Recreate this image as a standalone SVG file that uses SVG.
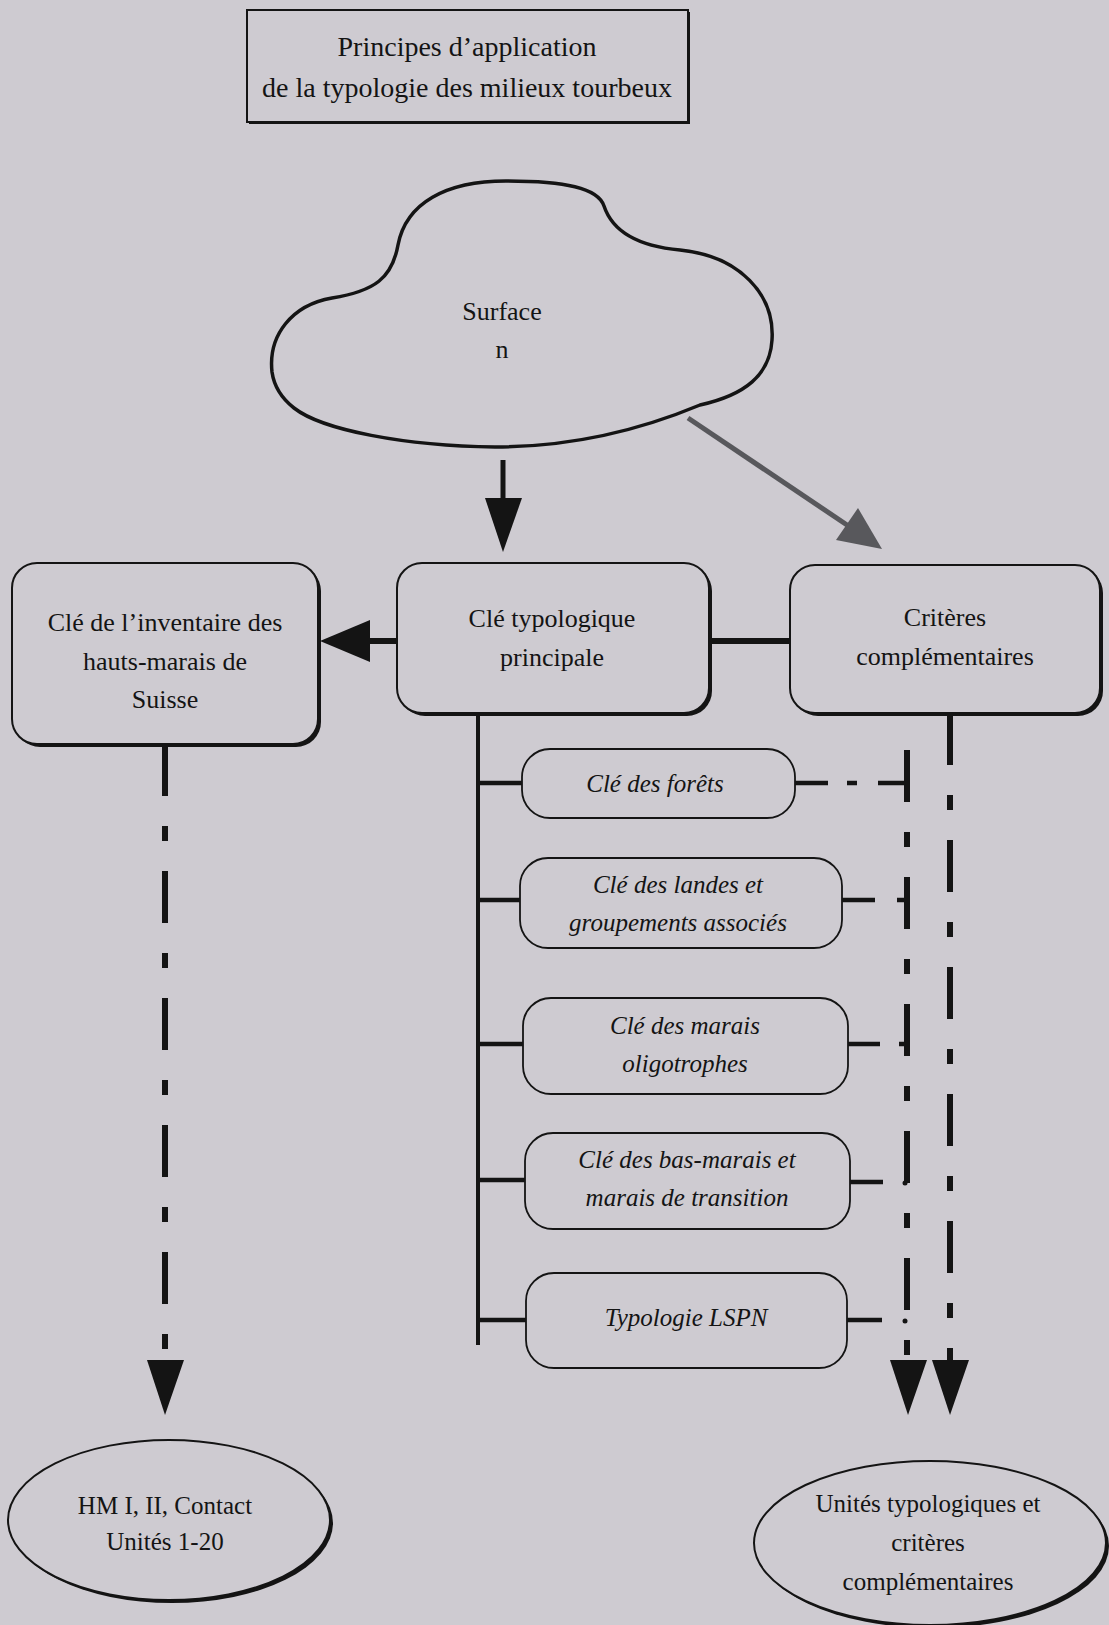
<svg xmlns="http://www.w3.org/2000/svg" width="1109" height="1625" viewBox="0 0 1109 1625">
<style>
.t{font-family:"Liberation Serif","Times New Roman",serif;fill:#141414;text-anchor:middle}
.bx{fill:#cecbd1;stroke:#141414;stroke-width:2}
.sh{fill:#141414}
.sb{fill:none;stroke:#141414;stroke-width:1.8}
.ln{stroke:#141414;fill:none}
.dd{stroke:#141414;stroke-width:6;stroke-dasharray:52 30 15 30;fill:none}
.hd{fill:#141414}
</style>
<rect width="1109" height="1625" fill="#cecbd1"/>
<g id="title">
<rect x="249" y="12" width="441" height="112" class="sh"/>
<rect x="247" y="10" width="441" height="112" class="bx"/>
<text class="t" x="467" y="56" font-size="28">Principes d’application</text>
<text class="t" x="467" y="97" font-size="28">de la typologie des milieux tourbeux</text>
</g>
<g id="surface">
<path d="M272,372 C268,335 292,305 332,298 C375,291 392,278 398,245 C406,203 446,181 506,181 C565,181 598,188 604,206 C612,230 636,246 680,250 C740,256 775,295 772,340 C770,375 745,395 700,405 C640,430 570,447 495,447 C405,446 322,430 294,408 C280,397 274,386 272,372 Z" fill="none" stroke="#141414" stroke-width="3.5"/>
<text class="t" x="502" y="320" font-size="26">Surface</text>
<text class="t" x="502" y="358" font-size="26">n</text>
</g>
<g id="inventaire">
<rect x="15" y="566" width="306" height="181" rx="25" class="sh"/>
<rect x="12" y="563" width="306" height="181" rx="25" class="bx"/>
<text class="t" x="165" y="631" font-size="26">Clé de l’inventaire des</text>
<text class="t" x="165" y="670" font-size="26">hauts-marais de</text>
<text class="t" x="165" y="708" font-size="26">Suisse</text>
</g>
<g id="principale">
<rect x="400" y="566" width="312" height="150" rx="25" class="sh"/>
<rect x="397" y="563" width="312" height="150" rx="25" class="bx"/>
<text class="t" x="552" y="627" font-size="26">Clé typologique</text>
<text class="t" x="552" y="666" font-size="26">principale</text>
</g>
<g id="criteres">
<rect x="793" y="568" width="310" height="148" rx="25" class="sh"/>
<rect x="790" y="565" width="310" height="148" rx="25" class="bx"/>
<text class="t" x="945" y="626" font-size="26">Critères</text>
<text class="t" x="945" y="665" font-size="26">complémentaires</text>
</g>
<g id="forets">
<rect x="522" y="749" width="273" height="69" rx="28" class="sb"/>
<text class="t" x="655" y="792" font-size="25" font-style="italic">Clé des forêts</text>
</g>
<g id="landes">
<rect x="520" y="858" width="322" height="90" rx="28" class="sb"/>
<text class="t" x="678" y="893" font-size="25" font-style="italic">Clé des landes et</text>
<text class="t" x="678" y="931" font-size="25" font-style="italic">groupements associés</text>
</g>
<g id="oligotrophes">
<rect x="523" y="998" width="325" height="96" rx="28" class="sb"/>
<text class="t" x="685" y="1034" font-size="25" font-style="italic">Clé des marais</text>
<text class="t" x="685" y="1072" font-size="25" font-style="italic">oligotrophes</text>
</g>
<g id="basmarais">
<rect x="525" y="1133" width="325" height="96" rx="28" class="sb"/>
<text class="t" x="687" y="1168" font-size="25" font-style="italic">Clé des bas-marais et</text>
<text class="t" x="687" y="1206" font-size="25" font-style="italic">marais de transition</text>
</g>
<g id="lspn">
<rect x="526" y="1273" width="321" height="95" rx="28" class="sb"/>
<text class="t" x="686" y="1326" font-size="25" font-style="italic">Typologie LSPN</text>
</g>
<g id="hm">
<ellipse cx="172" cy="1523" rx="161" ry="80" class="sh"/>
<ellipse cx="169" cy="1520" rx="161" ry="80" class="bx"/>
<text class="t" x="165" y="1514" font-size="25">HM I, II, Contact</text>
<text class="t" x="165" y="1550" font-size="25">Unités 1-20</text>
</g>
<g id="unites">
<ellipse cx="933" cy="1546" rx="176" ry="82" class="sh"/>
<ellipse cx="930" cy="1543" rx="176" ry="82" class="bx"/>
<text class="t" x="928" y="1512" font-size="25">Unités typologiques et</text>
<text class="t" x="928" y="1551" font-size="25">critères</text>
<text class="t" x="928" y="1590" font-size="25">complémentaires</text>
</g>
<g id="connectors">
<line x1="503" y1="460" x2="503" y2="502" class="ln" stroke-width="5"/>
<polygon points="485,498 522,498 503,552" class="hd"/>
<line x1="688" y1="418" x2="850" y2="527" stroke="#58585c" stroke-width="5"/>
<polygon points="882,549 836,540 858,508" fill="#58585c"/>
<line x1="397" y1="641" x2="368" y2="641" class="ln" stroke-width="6"/>
<polygon points="370,620 370,662 320,641" class="hd"/>
<line x1="709" y1="641" x2="790" y2="641" class="ln" stroke-width="6"/>
<line x1="478" y1="713" x2="478" y2="1345" class="ln" stroke-width="4"/>
<line x1="478" y1="783" x2="522" y2="783" class="ln" stroke-width="4.5"/>
<line x1="478" y1="900" x2="520" y2="900" class="ln" stroke-width="4.5"/>
<line x1="478" y1="1044" x2="523" y2="1044" class="ln" stroke-width="4.5"/>
<line x1="478" y1="1180" x2="525" y2="1180" class="ln" stroke-width="4.5"/>
<line x1="478" y1="1320" x2="526" y2="1320" class="ln" stroke-width="4.5"/>
<path d="M795,783 H828 M847,783 H857 M878,783 H907" class="ln" stroke-width="4.5"/>
<path d="M842,900 H875 M897,900 H907" class="ln" stroke-width="4.5"/>
<path d="M848,1044 H880 M899,1044 H907" class="ln" stroke-width="4.5"/>
<path d="M850,1182 H883" class="ln" stroke-width="4.5"/>
<circle cx="905" cy="1183" r="2.5" class="hd"/>
<path d="M847,1320 H882" class="ln" stroke-width="4.5"/>
<circle cx="905" cy="1321" r="2.5" class="hd"/>
<line x1="165" y1="744" x2="165" y2="1360" class="dd"/>
<polygon points="147,1360 184,1360 165,1415" class="hd"/>
<line x1="907" y1="750" x2="907" y2="1362" class="dd"/>
<line x1="950" y1="713" x2="950" y2="1362" class="dd"/>
<line x1="950" y1="1348" x2="950" y2="1362" class="ln" stroke-width="6"/>
<polygon points="890,1360 927,1360 908,1415" class="hd"/>
<polygon points="932,1360 969,1360 950,1415" class="hd"/>
</g>
</svg>
